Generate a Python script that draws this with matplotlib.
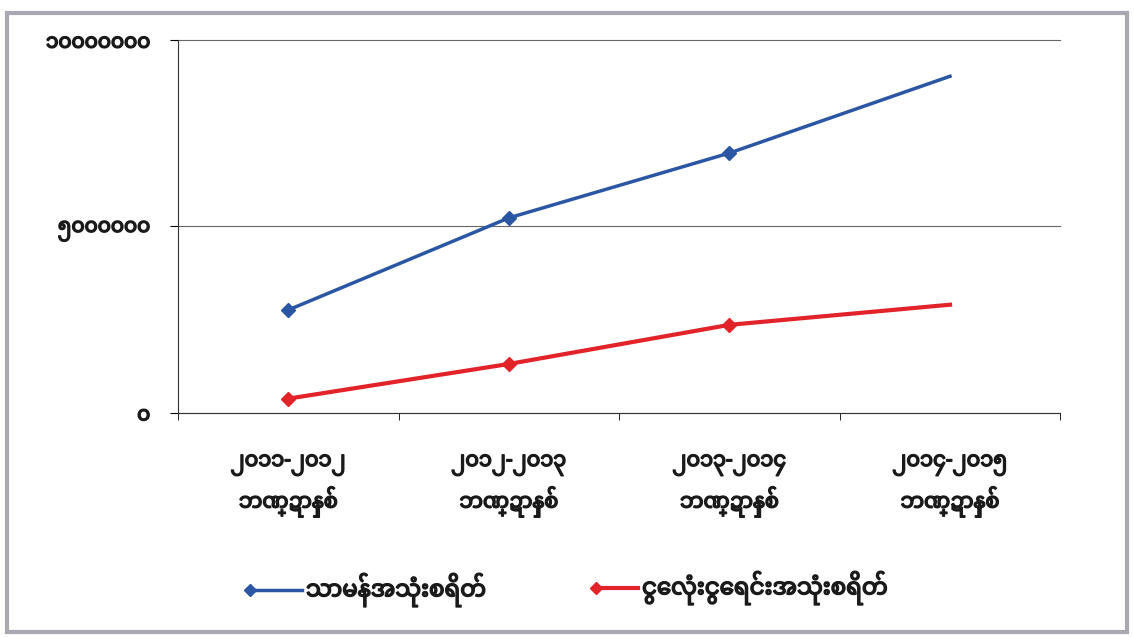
import matplotlib
matplotlib.use("Agg")
import matplotlib.pyplot as plt
import matplotlib.patheffects as pe
from matplotlib.lines import Line2D
from matplotlib.patches import Rectangle

# Data
categories = ["၂၀၁၁-၂၀၁၂\nဘဏ္ဍာနှစ်", "၂၀၁၂-၂၀၁၃\nဘဏ္ဍာနှစ်",
              "၂၀၁၃-၂၀၁၄\nဘဏ္ဍာနှစ်", "၂၀၁၄-၂၀၁၅\nဘဏ္ဍာနှစ်"]
ordinary = [2760000, 5230000, 6970000, 9030000]
capital = [380000, 1310000, 2360000, 2900000]
series_names = ["သာမန်အသုံးစရိတ်", "ငွေလုံးငွေရင်းအသုံးစရိတ်"]
ytick_vals = [0, 5000000, 10000000]
ytick_labels = ["၀", "၅၀၀၀၀၀၀", "၁၀၀၀၀၀၀၀"]

BLUE = "#2a56a4"
RED = "#e2232a"
plt.rcParams["font.family"] = ["Noto Sans Myanmar", "Myanmar Sans Pro", "DejaVu Sans"]
TXT = "#1a1a1a"
BOLD = [pe.withStroke(linewidth=1.1, foreground=TXT)]

fig = plt.figure(figsize=(11.34, 6.37), dpi=100)
ax = fig.add_axes([0.157, 0.352, 0.778, 0.585])

x = list(range(len(categories)))
ax.plot(x, ordinary, color=BLUE, lw=2.5, marker="D", ms=7, markevery=[0, 1, 2])
ax.plot(x, capital, color=RED, lw=3, marker="D", ms=7, markevery=[0, 1, 2])

ax.set_xlim(-0.5, 3.5)
ax.set_ylim(0, 10000000)
ax.set_yticks(ytick_vals)
ax.set_yticklabels(ytick_labels, fontsize=14.5, color=TXT)
ax.set_xticks(x)
ax.set_xticklabels(categories, fontsize=15, linespacing=1.5, color=TXT)
for t in ax.get_xticklabels() + ax.get_yticklabels():
    t.set_path_effects(BOLD)
ax.tick_params(axis="x", length=0, pad=30)
ax.set_xticks([-0.5, 0.5, 1.5, 2.5, 3.5], minor=True)
ax.tick_params(axis="x", which="minor", length=5, direction="out")
ax.tick_params(axis="y", length=6, direction="out", pad=14)
ax.grid(axis="y", color="#666666", lw=0.8)
for gl in ax.get_ygridlines():
    gl.set_clip_on(False)
ax.set_axisbelow(True)
for s in ["top", "right"]:
    ax.spines[s].set_visible(False)
ax.spines["left"].set_color("#333333")
ax.spines["bottom"].set_color("#333333")

# Legend (marker at left end of the line sample, as in the reference)
W, H = 1134.0, 637.0
def legend_entry(x0, x1, y, color, lw, label):
    fig.add_artist(Line2D([x0 / W, x1 / W], [1 - y / H, 1 - y / H], color=color, lw=lw,
                          transform=fig.transFigure))
    fig.add_artist(Line2D([x0 / W], [1 - y / H], color=color, marker="D", ms=6, lw=0,
                          transform=fig.transFigure))
    fig.text((x1 + 4) / W, 1 - y / H, label, fontsize=16.5, va="center", ha="left",
             color=TXT, path_effects=BOLD)

legend_entry(250, 302, 590, BLUE, 2.5, series_names[0])
legend_entry(596, 638, 588, RED, 3, series_names[1])

fig.patches.append(Rectangle((0.006, 0.008), 0.988, 0.972, transform=fig.transFigure,
                             fill=False, ec="#a8a8b0", lw=3))
fig.savefig("out.png", dpi=100)
